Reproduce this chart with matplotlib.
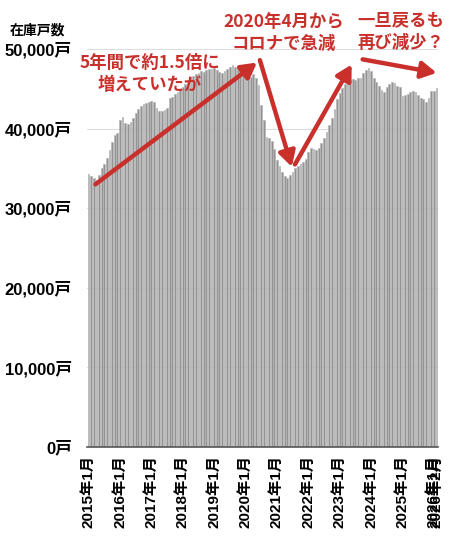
import numpy as np
import matplotlib
matplotlib.use("Agg")
import matplotlib.pyplot as plt

plt.rcParams['font.family'] = ['Liberation Sans', 'Noto Sans CJK JP', 'DejaVu Sans']

# monthly stock (戸), 2015-01 .. 2026-02
stock_2015 = [34300, 34000, 33800, 33500, 34200, 35000, 35600, 36300, 37300, 38300, 39200, 39500]
stock_2016 = [41100, 41400, 40700, 40600, 40800, 41300, 42000, 42500, 42800, 43100, 43200, 43400]
stock_2017 = [43500, 43300, 42600, 42200, 42200, 42300, 42600, 43800, 44000, 44300, 44600, 44800]
stock_2018 = [45200, 45600, 46000, 46400, 46600, 46800, 47000, 47200, 47100, 47300, 47500, 47500]
stock_2019 = [47600, 47300, 47100, 47000, 47200, 47500, 47700, 48000, 47800, 47600, 47700, 47400]
stock_2020 = [46800, 46400, 46500, 46800, 46300, 45500, 43000, 41100, 39000, 38800, 38500, 37400]
stock_2021 = [36000, 35300, 34600, 34100, 33800, 34200, 34600, 35000, 35300, 35500, 35800, 36200]
stock_2022 = [37000, 37600, 37500, 37300, 37600, 38200, 38800, 39600, 40400, 41300, 42500, 43700]
stock_2023 = [44500, 45100, 45600, 46000, 46100, 46200, 46100, 46300, 46400, 47000, 47300, 47600]
stock_2024 = [47200, 46400, 45900, 45300, 44800, 44600, 45200, 45600, 45900, 45700, 45400, 45200]
stock_2025 = [44100, 44200, 44400, 44600, 44700, 44600, 44200, 43900, 43700, 43300, 43800, 44700]
stock_2026 = [44700, 45100]

stock = (stock_2015 + stock_2016 + stock_2017 + stock_2018 + stock_2019 + stock_2020
         + stock_2021 + stock_2022 + stock_2023 + stock_2024 + stock_2025 + stock_2026)
months = [f"{2015 + i // 12}年{i % 12 + 1}月" for i in range(len(stock))]

tick_idx = [i for i in range(len(stock)) if i % 12 == 0] + [len(stock) - 1]
yticks = [0, 10000, 20000, 30000, 40000, 50000]
ytick_labels = ["0戸", "10,000戸", "20,000戸", "30,000戸", "40,000戸", "50,000戸"]

red = '#c9302c'

fig = plt.figure(figsize=(4.5, 5.43), dpi=100)
ax = fig.add_axes([87 / 450, 96 / 543, 351 / 450, 398 / 543])

x = np.arange(len(stock))
ax.bar(x, stock, width=0.68, color='#939393', edgecolor='#b8b8b8', linewidth=0.5, zorder=2)

ax.set_xlim(-0.6, len(stock) - 0.4)
ax.set_ylim(0, 50000)
ax.set_yticks(yticks)
ax.set_yticklabels(ytick_labels, fontsize=12, fontweight='bold')
ax.set_xticks(tick_idx)
ax.set_xticklabels([months[i] for i in tick_idx], rotation=90, fontsize=11, fontweight='bold')
ax.tick_params(axis='y', length=0, pad=11)
ax.tick_params(axis='x', length=0, pad=6)
ax.grid(axis='y', color='#dddddd', linewidth=0.8, zorder=0)
for s in ['left', 'right', 'top']:
    ax.spines[s].set_visible(False)
ax.spines['bottom'].set_color('#555555')
ax.spines['bottom'].set_linewidth(1.2)

fig.text(37 / 450, 1 - 30 / 543, "在庫戸数", ha='center', va='center', fontsize=10,
         fontweight='bold')

arrow = dict(arrowstyle='-|>,head_length=0.9,head_width=0.5', color=red, lw=3.2,
             shrinkA=0, shrinkB=0)
ax.annotate("", xy=(64.4, 48300), xytext=(2.6, 33000), arrowprops=arrow,
            annotation_clip=False, zorder=5)
ax.annotate("", xy=(77.7, 35200), xytext=(65.5, 48600), arrowprops=arrow,
            annotation_clip=False, zorder=5)
ax.annotate("", xy=(100.6, 48050), xytext=(78.9, 35500), arrowprops=arrow,
            annotation_clip=False, zorder=5)
ax.annotate("", xy=(133.1, 47000), xytext=(104.8, 48700), arrowprops=arrow,
            annotation_clip=False, zorder=5)

txt = dict(color=red, fontsize=12.5, fontweight='bold', ha='center', va='center',
           linespacing=1.3, zorder=6, family=['Noto Sans CJK JP', 'DejaVu Sans'])
ax.text(23.4, 46900, "5年間で約1.5倍に\n増えていたが", **txt)
ax.text(74.5, 52000, "2020年4月から\nコロナで急減", clip_on=False, **txt)
ax.text(119.5, 52200, "一旦戻るも\n再び減少？", clip_on=False, **txt)

fig.savefig("out.png", dpi=100)
